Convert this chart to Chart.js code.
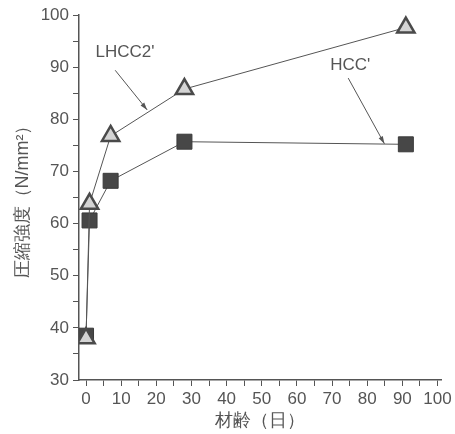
<!DOCTYPE html>
<html>
<head>
<meta charset="utf-8">
<script src="https://cdn.jsdelivr.net/npm/chart.js@4"></script>
<style>
  html, body { margin: 0; padding: 0; background: #fff; }
  #wrap { width: 455px; height: 434px; }
</style>
</head>
<body>
<div id="wrap"><canvas id="strengthChart" width="455" height="434"></canvas></div>
<script>
// 材齢 (日)
const ages = [0, 1, 7, 28, 91];
// 圧縮強度 (N/mm2)
const lhcc2 = [38, 63.8, 76.8, 85.8, 97.6];
const hcc = [38.5, 60.6, 68.2, 75.7, 75.2];
const seriesNames = ["LHCC2'", "HCC'"];
const xTitle = '材齢（日）';
const yTitle = '圧縮強度（N/mm²）';

// ラベルと矢印 (データ座標)
const notes = [
    { text: "LHCC2'", x: 11.1, y: 92.9, from: [8.3, 89.4], to: [17.4, 81.8] },
    { text: "HCC'", x: 75.2, y: 90.4, from: [74.6, 87.9], to: [84.9, 75.3] }
];

const ink = '#555';
const font = "'Liberation Sans', Arial, sans-serif";

const notePlugin = {
    id: 'notes',
    afterDatasetsDraw(chart) {
        const c = chart.ctx;
        const xs = chart.scales.x, ys = chart.scales.y;
        c.save();
        c.fillStyle = ink;
        c.strokeStyle = ink;
        c.lineWidth = 1;
        c.font = '17px ' + font;
        c.textAlign = 'center';
        c.textBaseline = 'middle';
        notes.forEach(n => {
            c.fillText(n.text, xs.getPixelForValue(n.x), ys.getPixelForValue(n.y));
            const x1 = xs.getPixelForValue(n.from[0]), y1 = ys.getPixelForValue(n.from[1]);
            const x2 = xs.getPixelForValue(n.to[0]), y2 = ys.getPixelForValue(n.to[1]);
            c.beginPath();
            c.moveTo(x1, y1);
            c.lineTo(x2, y2);
            c.stroke();
            const a = Math.atan2(y2 - y1, x2 - x1);
            c.beginPath();
            c.moveTo(x2, y2);
            c.lineTo(x2 - 8 * Math.cos(a - 0.3), y2 - 8 * Math.sin(a - 0.3));
            c.lineTo(x2 - 8 * Math.cos(a + 0.3), y2 - 8 * Math.sin(a + 0.3));
            c.closePath();
            c.fill();
        });
        c.restore();
    }
};

const ctx = document.getElementById('strengthChart').getContext('2d');
new Chart(ctx, {
    type: 'line',
    data: {
        datasets: [
            {
                label: seriesNames[0],
                data: ages.map((a, i) => ({ x: a, y: lhcc2[i] })),
                borderColor: ink,
                borderWidth: 1,
                pointStyle: 'triangle',
                pointRadius: 10,
                pointBorderWidth: 2.5,
                pointBorderColor: '#4a4a4a',
                pointBackgroundColor: '#d4d4d4',
                order: 1
            },
            {
                label: seriesNames[1],
                data: ages.map((a, i) => ({ x: a, y: hcc[i] })),
                borderColor: ink,
                borderWidth: 1,
                pointStyle: 'rect',
                pointRadius: 10.6,
                pointBorderWidth: 1,
                pointBorderColor: '#3a3a3a',
                pointBackgroundColor: '#474747',
                order: 2
            }
        ]
    },
    options: {
        responsive: false,
        animation: false,
        layout: { padding: { top: 15, right: 14, left: 12, bottom: 0 } },
        plugins: {
            legend: { display: false },
            tooltip: { enabled: false }
        },
        scales: {
            x: {
                type: 'linear',
                min: -2,
                max: 101,
                afterFit(s) { s.height = 54; },
                border: { color: ink, width: 1.5 },
                grid: { drawOnChartArea: false, drawTicks: true, tickLength: 6, color: ink },
                ticks: {
                    stepSize: 5,
                    includeBounds: false,
                    autoSkip: false,
                    maxRotation: 0,
                    padding: 3,
                    color: ink,
                    font: { family: font, size: 17 },
                    callback: v => (v % 10 === 0 ? v : '')
                },
                title: {
                    display: true,
                    text: xTitle,
                    color: ink,
                    padding: { top: 0, bottom: 2 },
                    font: { family: font, size: 18 }
                }
            },
            y: {
                min: 30,
                max: 100,
                afterFit(s) { s.width = 67; },
                border: { color: ink, width: 1.5 },
                grid: { drawOnChartArea: false, drawTicks: true, tickLength: 6, color: ink },
                ticks: {
                    stepSize: 5,
                    autoSkip: false,
                    padding: 4,
                    color: ink,
                    font: { family: font, size: 17 },
                    callback: v => (v % 10 === 0 ? v : '')
                },
                title: {
                    display: true,
                    text: yTitle,
                    color: ink,
                    padding: 0,
                    font: { family: font, size: 18 }
                }
            }
        }
    },
    plugins: [notePlugin]
});
</script>
</body>
</html>
